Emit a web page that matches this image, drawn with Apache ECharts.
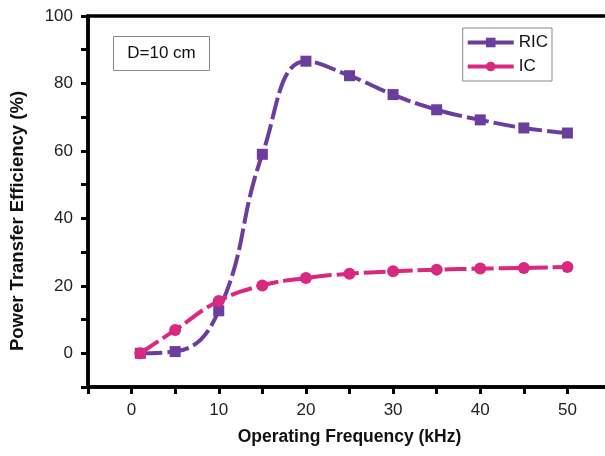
<!DOCTYPE html>
<html>
<head>
<meta charset="utf-8">
<script src="https://cdn.jsdelivr.net/npm/echarts@6/dist/echarts.min.js"></script>
<style>html,body{margin:0;padding:0;background:#fff}#c{width:605px;height:456px}</style>
</head>
<body>
<div id="c"></div>
<script>
var frequency = [1, 5, 10, 15, 20, 25, 30, 35, 40, 45, 50];
var ricValues = [0, 0.5, 12.6, 59.0, 86.6, 82.3, 76.7, 72.2, 69.2, 66.8, 65.3];
var icValues  = [0, 6.9, 15.5, 20.1, 22.3, 23.6, 24.3, 24.8, 25.1, 25.3, 25.6];
var xTickLabels = [0, 10, 20, 30, 40, 50];
var yTickLabels = [0, 20, 40, 60, 80, 100];

function pairs(xs, ys){ return xs.map(function(x,i){ return [x, ys[i]]; }); }

var font = 'Liberation Sans, Arial, sans-serif';
var chart = echarts.init(document.getElementById('c'));
chart.setOption({
  animation: false,
  backgroundColor: '#fff',
  grid: { left: 88, right: -6, top: 16, bottom: 69, outerBoundsMode: 'none', containLabel: false,
          show: true, borderColor: '#000', borderWidth: 3.5 },
  legend: {
    right: 53, top: 28, orient: 'vertical', itemGap: 7, itemWidth: 46, itemHeight: 12,
    borderColor: '#888', borderWidth: 1, padding: [6, 4, 6, 3],
    textStyle: { fontFamily: font, fontSize: 17, color: '#111' },
    lineStyle: { width: 4, type: 'solid' },
    data: ['RIC', 'IC']
  },
  graphic: [{
    type: 'group', left: 113, top: 36,
    children: [
      { type: 'rect', shape: { x: 0, y: 0, width: 96, height: 34 }, style: { fill: '#fff', stroke: '#888', lineWidth: 1 } },
      { type: 'text', x: 48, y: 17, style: { text: 'D=10 cm', font: '17px ' + font, fill: '#111', align: 'center', verticalAlign: 'middle' } }
    ]
  }, {
    type: 'text', x: 18, y: 221, rotation: Math.PI / 2,
    style: { text: 'Power Transfer Efficiency (%)', font: 'bold 18.5px ' + font, fill: '#111', align: 'center', verticalAlign: 'middle' }
  }],
  xAxis: {
    type: 'value', min: -5, max: 55, interval: 5,
    name: 'Operating Frequency (kHz)', nameLocation: 'middle', nameGap: 41,
    nameTextStyle: { fontFamily: font, fontSize: 17.5, fontWeight: 'bold', color: '#111' },
    axisLine: { onZero: false, lineStyle: { color: '#000', width: 3.5 } },
    axisTick: { length: 7, lineStyle: { color: '#000', width: 3 } },
    splitLine: { show: false },
    axisLabel: {
      fontFamily: font, fontSize: 17, color: '#222', margin: 15,
      formatter: function(v){ return xTickLabels.indexOf(v) >= 0 ? String(v) : ''; }
    }
  },
  yAxis: {
    type: 'value', min: -10, max: 100, interval: 10,
    axisLine: { onZero: false, lineStyle: { color: '#000', width: 3.5 } },
    axisTick: { length: 7, lineStyle: { color: '#000', width: 3 } },
    splitLine: { show: false },
    axisLabel: {
      fontFamily: font, fontSize: 17, color: '#222', margin: 15,
      formatter: function(v){ return yTickLabels.indexOf(v) >= 0 ? String(v) : ''; }
    }
  },
  series: [
    {
      name: 'RIC', type: 'line', data: pairs(frequency, ricValues), smooth: 0.45,
      symbol: 'rect', symbolSize: 11, z: 3,
      itemStyle: { color: '#6a3d9e' },
      lineStyle: { color: '#6a3d9e', width: 4, type: [22, 5] }
    },
    {
      name: 'IC', type: 'line', data: pairs(frequency, icValues), smooth: 0.45,
      symbol: 'circle', symbolSize: 12, z: 4,
      itemStyle: { color: '#d9287f' },
      lineStyle: { color: '#d9287f', width: 4, type: [22, 5] }
    }
  ]
});
</script>
</body>
</html>
